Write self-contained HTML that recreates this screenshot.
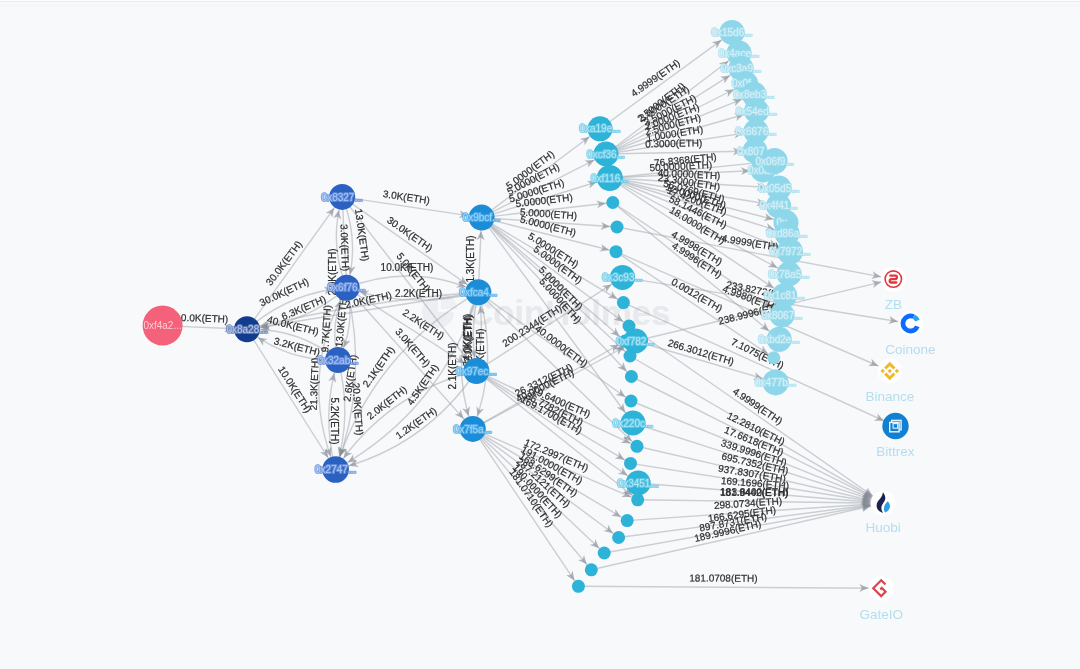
<!DOCTYPE html>
<html><head><meta charset="utf-8"><title>graph</title>
<style>
html,body{margin:0;padding:0;background:#f8f9fb;}
body{width:1080px;height:669px;overflow:hidden;position:relative;font-family:"Liberation Sans",sans-serif;}
svg{position:absolute;left:0;top:0;display:block;filter:blur(0.65px);}
.top0{position:absolute;left:0;top:0;width:100%;height:1px;background:#fdfdfe;}
.top1{position:absolute;left:0;top:1px;width:100%;height:1px;background:#e7e9ed;}
.top2{position:absolute;left:0;top:2px;width:100%;height:2px;background:#f9fafc;}
.top3{position:absolute;left:0;top:4px;width:100%;height:3px;background:#f6f7f9;}
.wm{position:absolute;left:468px;top:293px;font-size:35px;font-weight:bold;color:#e7e9ec;letter-spacing:-0.2px;line-height:40px;white-space:nowrap;}
text{font-family:"Liberation Sans",sans-serif;}
.el text{fill:#2e2e2e;stroke:#2e2e2e;stroke-width:.22px;text-anchor:middle;}
.nl text{font-size:10px;text-anchor:middle;paint-order:stroke;stroke-width:2.2px;stroke-linejoin:round;}
.ex{font-size:13.5px;text-anchor:middle;fill:#b2deee;}
</style></head><body>
<div class="top0"></div><div class="top1"></div><div class="top2"></div><div class="top3"></div>
<div class="wm">CoinHolmes</div>
<svg width="1080" height="669" viewBox="0 0 1080 669">
<g fill="#eceef1"><path d="M438 296a16 16 0 1 0 16 16h-16z"/><path d="M441 293v16h16a16 16 0 0 0-16-16z" opacity=".8"/></g>
<g fill="none" stroke="#9ea3ab" stroke-width="1.4" stroke-opacity=".5">
<path d="M162.6 325.6L247.0 329.3"/>
<path d="M247.0 329.3L342.2 196.9"/>
<path d="M247.0 329.3Q289.9 291.9 346.7 287.8"/>
<path d="M346.7 287.8Q303.8 325.2 247.0 329.3"/>
<path d="M338.0 360.0Q298.3 327.6 247.0 329.3"/>
<path d="M338.0 360.0Q286.7 361.7 247.0 329.3"/>
<path d="M247.0 329.3L335.6 469.5"/>
<path d="M346.7 287.8Q328.5 243.1 342.2 196.9"/>
<path d="M342.2 196.9L346.7 287.8"/>
<path d="M342.2 196.9Q360.4 241.6 346.7 287.8"/>
<path d="M338.0 360.0Q328.5 322.2 346.7 287.8"/>
<path d="M346.7 287.8Q356.2 325.6 338.0 360.0"/>
<path d="M346.7 287.8Q297.2 376.0 335.6 469.5"/>
<path d="M346.7 287.8Q369.1 380.4 335.6 469.5"/>
<path d="M335.6 469.5Q320.8 414.4 338.0 360.0"/>
<path d="M338.0 360.0Q352.8 415.1 335.6 469.5"/>
<path d="M342.2 196.9L481.6 217.6"/>
<path d="M342.2 196.9L478.3 292.3"/>
<path d="M342.2 196.9L476.4 371.0"/>
<path d="M346.7 287.8Q413.5 262.1 478.3 292.3"/>
<path d="M478.3 292.3Q411.8 310.0 346.7 287.8"/>
<path d="M478.3 292.3L247.0 329.3"/>
<path d="M478.3 292.3Q361.1 300.9 247.0 329.3"/>
<path d="M346.7 287.8L476.4 371.0"/>
<path d="M346.7 287.8L472.8 428.9"/>
<path d="M478.3 292.3Q371.9 352.7 335.6 469.5"/>
<path d="M478.3 292.3Q442.8 409.8 335.6 469.5"/>
<path d="M476.4 371.0Q386.5 392.4 335.6 469.5"/>
<path d="M476.4 371.0Q424.9 447.3 335.6 469.5"/>
<path d="M478.3 292.3L481.6 217.6"/>
<path d="M478.3 292.3Q469.4 331.5 476.4 371.0"/>
<path d="M476.4 371.0Q485.3 331.8 478.3 292.3"/>
<path d="M478.3 292.3Q447.6 359.5 472.8 428.9"/>
<path d="M478.3 292.3Q499.5 361.6 472.8 428.9"/>
<path d="M481.6 217.6L600.0 128.8"/>
<path d="M481.6 217.6L606.0 154.0"/>
<path d="M481.6 217.6L609.8 178.0"/>
<path d="M481.6 217.6L612.8 202.5"/>
<path d="M481.6 217.6L617.0 227.0"/>
<path d="M481.6 217.6L616.0 251.7"/>
<path d="M481.6 217.6L623.4 302.6"/>
<path d="M481.6 217.6L629.0 326.0"/>
<path d="M481.6 217.6L625.0 341.0"/>
<path d="M481.6 217.6L630.0 356.0"/>
<path d="M481.6 217.6L631.4 376.5"/>
<path d="M481.6 217.6L633.0 423.0"/>
<path d="M476.4 371.0L622.5 277.4"/>
<path d="M478.3 292.3L631.0 401.0"/>
<path d="M478.3 292.3L637.0 446.3"/>
<path d="M472.8 428.9L625.0 341.0"/>
<path d="M472.8 428.9L635.5 341.0"/>
<path d="M476.4 371.0L637.0 446.3"/>
<path d="M476.4 371.0L630.5 463.4"/>
<path d="M476.4 371.0L638.2 483.0"/>
<path d="M476.4 371.0L637.7 499.8"/>
<path d="M472.8 428.9L637.7 499.8"/>
<path d="M472.8 428.9L627.2 520.6"/>
<path d="M472.8 428.9L618.6 537.5"/>
<path d="M472.8 428.9L604.2 553.0"/>
<path d="M472.8 428.9L591.3 569.8"/>
<path d="M472.8 428.9L578.4 586.3"/>
<path d="M600.0 128.8L732.0 32.4"/>
<path d="M606.0 154.0L739.0 53.0"/>
<path d="M606.0 154.0L741.0 68.3"/>
<path d="M606.0 154.0L745.6 83.5"/>
<path d="M606.0 154.0L754.0 94.3"/>
<path d="M606.0 154.0L756.5 111.0"/>
<path d="M606.0 154.0L756.0 131.4"/>
<path d="M606.0 154.0L755.0 151.0"/>
<path d="M609.8 178.0L774.6 161.0"/>
<path d="M609.8 178.0L763.0 170.0"/>
<path d="M609.8 178.0L779.0 188.0"/>
<path d="M609.8 178.0L778.6 205.8"/>
<path d="M609.8 178.0L786.0 222.5"/>
<path d="M609.8 178.0L787.0 233.6"/>
<path d="M609.8 178.0L790.0 251.5"/>
<path d="M609.8 178.0L789.0 274.0"/>
<path d="M609.8 178.0L784.6 295.4"/>
<path d="M612.8 202.5L782.0 315.0"/>
<path d="M612.8 202.5L779.2 339.3"/>
<path d="M617.0 227.0L893.3 279.1"/>
<path d="M616.0 251.7L773.8 357.8"/>
<path d="M622.5 277.4L910.4 323.5"/>
<path d="M616.0 251.7L889.8 371.0"/>
<path d="M635.5 341.0L893.3 279.1"/>
<path d="M623.4 302.6L895.5 426.0"/>
<path d="M635.5 341.0L775.6 382.4"/>
<path d="M629.0 326.0L883.2 503.2"/>
<path d="M631.4 376.5L883.2 503.2"/>
<path d="M631.0 401.0L883.2 503.2"/>
<path d="M633.0 423.0L883.2 503.2"/>
<path d="M637.0 446.3L883.2 503.2"/>
<path d="M630.5 463.4L883.2 503.2"/>
<path d="M638.2 483.0L883.2 503.2"/>
<path d="M637.7 499.8L883.2 503.2"/>
<path d="M630.0 356.0L883.2 503.2"/>
<path d="M627.2 520.6L883.2 503.2"/>
<path d="M618.6 537.5L883.2 503.2"/>
<path d="M604.2 553.0L883.2 503.2"/>
<path d="M591.3 569.8L883.2 503.2"/>
<path d="M578.4 586.3L881.2 588.2"/>
</g>
<g fill="#858b94" fill-opacity=".62">
<path d="M233.5 328.7L224.3 332.3L227.0 328.4L224.7 324.3Z"/>
<path d="M334.2 208.0L332.2 217.6L330.4 213.3L325.7 213.0Z"/>
<path d="M333.3 289.3L325.0 294.5L326.8 290.2L323.8 286.6Z"/>
<path d="M260.4 327.8L268.7 322.6L266.9 326.9L269.9 330.5Z"/>
<path d="M260.5 329.5L269.7 326.0L267.0 329.8L269.3 334.0Z"/>
<path d="M257.8 337.4L267.5 339.1L263.2 341.0L263.1 345.7Z"/>
<path d="M328.2 457.8L320.0 452.3L324.7 452.3L326.8 448.0Z"/>
<path d="M338.9 210.0L341.1 219.7L337.7 216.4L333.3 218.1Z"/>
<path d="M350.0 274.7L347.8 265.0L351.2 268.3L355.6 266.6Z"/>
<path d="M341.1 300.1L341.6 310.0L338.8 306.2L334.2 307.1Z"/>
<path d="M343.6 347.7L343.1 337.8L345.9 341.6L350.5 340.7Z"/>
<path d="M330.7 456.4L323.9 449.2L328.5 450.3L331.5 446.6Z"/>
<path d="M340.2 456.3L339.2 446.5L342.3 450.2L346.8 449.0Z"/>
<path d="M334.3 373.1L336.1 382.8L332.8 379.4L328.3 380.9Z"/>
<path d="M339.3 456.2L337.6 446.5L340.9 449.8L345.4 448.4Z"/>
<path d="M468.2 215.6L458.7 218.2L461.8 214.7L459.9 210.3Z"/>
<path d="M467.2 284.5L457.6 282.7L461.9 280.8L462.2 276.1Z"/>
<path d="M468.0 360.1L459.3 355.4L464.0 355.0L465.7 350.5Z"/>
<path d="M465.8 287.0L456.0 287.5L459.7 284.7L458.8 280.0Z"/>
<path d="M359.7 291.8L369.5 290.4L366.0 293.6L367.3 298.1Z"/>
<path d="M260.6 327.1L268.8 321.8L267.0 326.1L270.1 329.7Z"/>
<path d="M260.1 326.1L268.0 320.1L266.5 324.6L269.8 327.9Z"/>
<path d="M464.9 363.6L455.2 362.1L459.4 360.1L459.5 355.4Z"/>
<path d="M463.7 418.7L454.7 414.6L459.3 413.8L460.6 409.3Z"/>
<path d="M340.0 456.3L339.2 446.4L342.2 450.1L346.8 449.1Z"/>
<path d="M347.7 462.4L353.3 454.3L353.2 459.0L357.5 461.2Z"/>
<path d="M343.6 458.1L345.7 448.5L347.5 452.8L352.2 453.2Z"/>
<path d="M349.0 465.8L356.4 459.3L355.2 463.9L358.8 467.0Z"/>
<path d="M481.0 231.1L484.6 240.3L480.7 237.6L476.6 240.0Z"/>
<path d="M474.5 357.6L469.5 349.1L473.8 351.1L477.5 348.2Z"/>
<path d="M480.2 305.7L485.2 314.2L480.9 312.2L477.2 315.1Z"/>
<path d="M468.6 415.9L462.2 408.4L466.8 409.7L469.9 406.1Z"/>
<path d="M477.4 416.1L476.5 406.3L479.5 409.9L484.1 408.8Z"/>
<path d="M589.5 136.7L584.7 145.3L584.3 140.6L579.9 138.9Z"/>
<path d="M594.3 160.0L588.1 167.6L588.6 162.9L584.5 160.5Z"/>
<path d="M596.8 182.0L589.4 188.5L590.6 183.9L587.0 180.8Z"/>
<path d="M605.7 203.3L597.3 208.3L599.3 204.1L596.3 200.4Z"/>
<path d="M609.9 226.5L600.6 229.9L603.4 226.1L601.2 221.9Z"/>
<path d="M609.1 250.0L599.4 251.6L602.8 248.4L601.4 243.9Z"/>
<path d="M617.4 299.0L607.6 297.8L611.8 295.6L611.7 290.9Z"/>
<path d="M623.3 321.8L613.7 319.7L618.1 317.9L618.4 313.2Z"/>
<path d="M619.6 336.4L610.2 333.5L614.7 332.1L615.4 327.5Z"/>
<path d="M624.8 351.2L615.5 347.9L620.1 346.7L621.0 342.1Z"/>
<path d="M626.5 371.3L617.4 367.5L622.1 366.6L623.3 362.0Z"/>
<path d="M625.2 412.5L616.7 407.6L621.4 407.2L623.1 402.9Z"/>
<path d="M611.5 284.4L606.1 292.6L606.1 287.9L601.8 285.9Z"/>
<path d="M625.3 396.9L615.6 395.0L620.0 393.2L620.3 388.4Z"/>
<path d="M631.8 441.3L622.6 437.9L627.2 436.8L628.2 432.2Z"/>
<path d="M618.9 344.5L613.1 352.5L613.3 347.8L609.1 345.6Z"/>
<path d="M623.9 347.3L617.9 355.1L618.2 350.4L614.1 348.0Z"/>
<path d="M630.6 443.3L620.7 443.1L624.7 440.5L624.1 435.8Z"/>
<path d="M624.3 459.7L614.6 458.5L618.8 456.4L618.7 451.6Z"/>
<path d="M627.5 475.6L617.8 473.7L622.1 471.9L622.4 467.2Z"/>
<path d="M632.1 495.3L622.5 492.8L627.0 491.2L627.5 486.6Z"/>
<path d="M631.1 497.0L621.3 497.1L625.1 494.4L624.4 489.7Z"/>
<path d="M621.0 516.9L611.2 515.8L615.4 513.6L615.3 508.9Z"/>
<path d="M613.0 533.3L603.3 531.1L607.7 529.4L608.1 524.7Z"/>
<path d="M599.1 548.2L589.8 544.9L594.4 543.7L595.3 539.1Z"/>
<path d="M586.7 564.3L577.9 560.0L582.5 559.4L584.0 554.9Z"/>
<path d="M574.4 580.4L566.1 575.2L570.8 575.0L572.7 570.7Z"/>
<path d="M721.4 40.1L716.5 48.7L716.2 43.9L711.8 42.2Z"/>
<path d="M728.5 61.0L723.8 69.6L723.3 64.9L718.9 63.2Z"/>
<path d="M729.9 75.4L724.4 83.6L724.4 78.9L720.1 76.8Z"/>
<path d="M733.9 89.4L727.7 97.0L728.1 92.3L724.1 89.9Z"/>
<path d="M741.8 99.2L734.9 106.3L735.8 101.7L731.9 98.9Z"/>
<path d="M743.9 114.6L736.3 120.9L737.6 116.4L734.1 113.2Z"/>
<path d="M743.1 133.3L734.8 138.6L736.6 134.3L733.6 130.7Z"/>
<path d="M742.0 151.3L733.0 155.4L735.5 151.4L732.9 147.4Z"/>
<path d="M761.0 162.4L752.5 167.3L754.5 163.1L751.6 159.3Z"/>
<path d="M750.0 170.7L741.2 175.1L743.5 171.0L740.8 167.2Z"/>
<path d="M765.9 187.2L756.7 190.7L759.4 186.8L757.1 182.7Z"/>
<path d="M765.7 203.7L756.2 206.2L759.3 202.6L757.5 198.3Z"/>
<path d="M773.2 219.3L763.5 220.9L766.9 217.7L765.5 213.2Z"/>
<path d="M774.6 229.7L764.8 230.8L768.4 227.8L767.2 223.2Z"/>
<path d="M777.4 246.4L767.5 246.7L771.4 243.9L770.6 239.3Z"/>
<path d="M777.4 267.8L767.5 267.0L771.6 264.7L771.3 260.0Z"/>
<path d="M773.7 288.1L764.0 286.4L768.3 284.4L768.4 279.7Z"/>
<path d="M771.0 307.7L761.3 306.0L765.6 304.1L765.7 299.4Z"/>
<path d="M769.0 330.9L759.5 328.3L764.0 326.8L764.6 322.1Z"/>
<path d="M880.9 276.8L871.3 279.0L874.5 275.6L872.8 271.2Z"/>
<path d="M767.9 353.8L758.2 352.1L762.5 350.2L762.6 345.5Z"/>
<path d="M897.8 321.5L888.3 324.0L891.4 320.5L889.6 316.1Z"/>
<path d="M878.2 365.9L868.3 366.0L872.2 363.3L871.5 358.7Z"/>
<path d="M881.1 282.0L873.2 288.0L874.7 283.6L871.4 280.3Z"/>
<path d="M883.9 420.8L874.1 420.7L878.0 418.1L877.4 413.4Z"/>
<path d="M762.6 378.6L752.9 379.9L756.4 376.7L755.1 372.2Z"/>
<path d="M872.7 495.9L863.0 494.0L867.4 492.2L867.6 487.5Z"/>
<path d="M871.9 497.5L862.0 497.0L866.1 494.6L865.6 489.9Z"/>
<path d="M871.5 498.5L861.7 498.8L865.5 496.0L864.7 491.4Z"/>
<path d="M871.0 499.3L861.2 500.4L864.8 497.3L863.7 492.7Z"/>
<path d="M870.9 500.4L861.2 502.2L864.6 498.9L863.0 494.4Z"/>
<path d="M870.6 501.2L861.1 503.8L864.1 500.2L862.3 495.9Z"/>
<path d="M870.6 502.2L861.3 505.4L864.2 501.6L862.0 497.4Z"/>
<path d="M870.6 503.0L861.6 506.9L864.1 502.9L861.7 498.9Z"/>
<path d="M872.1 496.8L862.3 495.7L866.5 493.5L866.4 488.8Z"/>
<path d="M870.7 504.0L862.0 508.6L864.2 504.5L861.5 500.7Z"/>
<path d="M870.6 504.8L862.2 510.0L864.2 505.7L861.2 502.0Z"/>
<path d="M870.6 505.4L862.5 511.0L864.2 506.6L861.1 503.1Z"/>
<path d="M870.8 506.0L862.9 511.9L864.5 507.5L861.1 504.1Z"/>
<path d="M868.3 588.1L859.3 592.1L861.8 588.1L859.4 584.1Z"/>
</g>
<g class="el">
<text transform="translate(201.8,318.0) rotate(2.0)" y="3.6" font-size="10">10.0K(ETH)</text>
<text transform="translate(283.8,263.0) rotate(-53.0)" y="3.6" font-size="10">30.0K(ETH)</text>
<text transform="translate(284.0,292.0) rotate(-25.0)" y="3.6" font-size="10">30.0K(ETH)</text>
<text transform="translate(303.6,307.6) rotate(-23.0)" y="3.6" font-size="10">6.3K(ETH)</text>
<text transform="translate(293.0,325.5) rotate(14.0)" y="3.6" font-size="10">40.0K(ETH)</text>
<text transform="translate(297.0,346.5) rotate(15.0)" y="3.6" font-size="10">3.2K(ETH)</text>
<text transform="translate(295.0,389.3) rotate(57.5)" y="3.6" font-size="10">10.0K(ETH)</text>
<text transform="translate(332.3,272.0) rotate(-90.0)" y="3.6" font-size="10">2.0K(ETH)</text>
<text transform="translate(344.9,247.7) rotate(88.0)" y="3.6" font-size="10">3.0K(ETH)</text>
<text transform="translate(362.2,235.0) rotate(82.0)" y="3.6" font-size="10">13.0K(ETH)</text>
<text transform="translate(326.0,328.7) rotate(-87.0)" y="3.6" font-size="10">9.7K(ETH)</text>
<text transform="translate(341.0,321.0) rotate(-85.0)" y="3.6" font-size="10">13.0K(ETH)</text>
<text transform="translate(314.0,384.0) rotate(-88.0)" y="3.6" font-size="10">21.3K(ETH)</text>
<text transform="translate(358.0,409.0) rotate(86.0)" y="3.6" font-size="10">20.9K(ETH)</text>
<text transform="translate(335.0,421.0) rotate(90.0)" y="3.6" font-size="10">5.2K(ETH)</text>
<text transform="translate(350.0,378.0) rotate(-82.0)" y="3.6" font-size="10">2.6K(ETH)</text>
<text transform="translate(406.4,197.0) rotate(8.4)" y="3.6" font-size="10">3.0K(ETH)</text>
<text transform="translate(410.0,234.0) rotate(35.0)" y="3.6" font-size="10">30.0K(ETH)</text>
<text transform="translate(413.6,272.3) rotate(51.0)" y="3.6" font-size="10">5.0K(ETH)</text>
<text transform="translate(407.0,267.6) rotate(0.0)" y="3.6" font-size="10">10.0K(ETH)</text>
<text transform="translate(418.5,293.8) rotate(0.0)" y="3.6" font-size="10">2.2K(ETH)</text>
<text transform="translate(368.4,299.8) rotate(-12.0)" y="3.6" font-size="10">2.0K(ETH)</text>
<text transform="translate(423.5,324.0) rotate(33.0)" y="3.6" font-size="10">2.2K(ETH)</text>
<text transform="translate(413.0,347.5) rotate(49.0)" y="3.6" font-size="10">3.0K(ETH)</text>
<text transform="translate(378.3,366.7) rotate(-55.0)" y="3.6" font-size="10">2.1K(ETH)</text>
<text transform="translate(422.5,384.6) rotate(-55.0)" y="3.6" font-size="10">4.5K(ETH)</text>
<text transform="translate(386.7,402.5) rotate(-38.0)" y="3.6" font-size="10">2.0K(ETH)</text>
<text transform="translate(416.0,422.9) rotate(-35.0)" y="3.6" font-size="10">1.2K(ETH)</text>
<text transform="translate(470.0,259.0) rotate(-90.0)" y="3.6" font-size="10">1.3K(ETH)</text>
<text transform="translate(468.7,338.5) rotate(-90.0)" y="3.6" font-size="10">2.0K(ETH)</text>
<text transform="translate(467.8,340.0) rotate(-90.0)" y="3.6" font-size="10">34.0K(ETH)</text>
<text transform="translate(452.5,366.0) rotate(-90.0)" y="3.6" font-size="10">2.1K(ETH)</text>
<text transform="translate(480.7,352.0) rotate(-90.0)" y="3.6" font-size="10">1.0K(ETH)</text>
<text transform="translate(530.0,169.8) rotate(-36.9)" y="3.6" font-size="10">5.0000(ETH)</text>
<text transform="translate(533.2,178.9) rotate(-27.1)" y="3.6" font-size="10">5.0000(ETH)</text>
<text transform="translate(536.5,190.6) rotate(-17.2)" y="3.6" font-size="10">5.0000(ETH)</text>
<text transform="translate(544.1,200.3) rotate(-6.6)" y="3.6" font-size="10">5.0000(ETH)</text>
<text transform="translate(548.5,213.7) rotate(4.0)" y="3.6" font-size="10">5.0000(ETH)</text>
<text transform="translate(548.2,225.7) rotate(14.2)" y="3.6" font-size="10">5.0000(ETH)</text>
<text transform="translate(553.5,250.0) rotate(32.0)" y="3.6" font-size="10">5.0000(ETH)</text>
<text transform="translate(558.0,264.5) rotate(36.0)" y="3.6" font-size="10">5.0000(ETH)</text>
<text transform="translate(561.0,288.0) rotate(45.0)" y="3.6" font-size="10">5.0000(ETH)</text>
<text transform="translate(560.5,300.5) rotate(48.0)" y="3.6" font-size="10">5.0000(ETH)</text>
<text transform="translate(532.0,325.5) rotate(-33.0)" y="3.6" font-size="10">200.2344(ETH)</text>
<text transform="translate(561.5,346.0) rotate(37.0)" y="3.6" font-size="10">40.0000(ETH)</text>
<text transform="translate(543.6,380.0) rotate(-26.0)" y="3.6" font-size="10">26.3312(ETH)</text>
<text transform="translate(545.0,385.5) rotate(-26.0)" y="3.6" font-size="10">40.0000(ETH)</text>
<text transform="translate(561.3,402.0) rotate(23.5)" y="3.6" font-size="10">19.6400(ETH)</text>
<text transform="translate(554.6,408.8) rotate(26.5)" y="3.6" font-size="10">86.7782(ETH)</text>
<text transform="translate(551.6,414.7) rotate(29.0)" y="3.6" font-size="10">169.1700(ETH)</text>
<text transform="translate(556.5,455.0) rotate(23.0)" y="3.6" font-size="10">172.2997(ETH)</text>
<text transform="translate(552.0,465.0) rotate(29.0)" y="3.6" font-size="10">191.0000(ETH)</text>
<text transform="translate(548.5,474.5) rotate(35.0)" y="3.6" font-size="10">168.6299(ETH)</text>
<text transform="translate(543.5,482.5) rotate(42.0)" y="3.6" font-size="10">287.2121(ETH)</text>
<text transform="translate(537.5,491.0) rotate(48.0)" y="3.6" font-size="10">190.0000(ETH)</text>
<text transform="translate(531.5,498.0) rotate(55.0)" y="3.6" font-size="10">181.0710(ETH)</text>
<text transform="translate(655.3,77.8) rotate(-35.0)" y="3.6" font-size="10">4.9999(ETH)</text>
<text transform="translate(661.0,102.0) rotate(-38.0)" y="3.6" font-size="10">2.5000(ETH)</text>
<text transform="translate(664.0,103.5) rotate(-33.0)" y="3.6" font-size="10">3.0000(ETH)</text>
<text transform="translate(670.0,110.0) rotate(-27.0)" y="3.6" font-size="10">3.5000(ETH)</text>
<text transform="translate(672.0,116.5) rotate(-21.0)" y="3.6" font-size="10">2.0000(ETH)</text>
<text transform="translate(672.8,124.4) rotate(-15.0)" y="3.6" font-size="10">2.5000(ETH)</text>
<text transform="translate(674.6,133.4) rotate(-9.0)" y="3.6" font-size="10">1.0000(ETH)</text>
<text transform="translate(673.7,143.3) rotate(-1.0)" y="3.6" font-size="10">0.3000(ETH)</text>
<text transform="translate(685.3,159.7) rotate(-6.0)" y="3.6" font-size="10">76.8368(ETH)</text>
<text transform="translate(680.8,166.0) rotate(-3.0)" y="3.6" font-size="10">50.0000(ETH)</text>
<text transform="translate(689.0,174.0) rotate(3.0)" y="3.6" font-size="10">40.0000(ETH)</text>
<text transform="translate(689.0,182.0) rotate(9.0)" y="3.6" font-size="10">23.3000(ETH)</text>
<text transform="translate(694.0,191.0) rotate(15.0)" y="3.6" font-size="10">56.0769(ETH)</text>
<text transform="translate(696.0,196.0) rotate(18.0)" y="3.6" font-size="10">12.0000(ETH)</text>
<text transform="translate(697.0,201.0) rotate(21.0)" y="3.6" font-size="10">17.4200(ETH)</text>
<text transform="translate(698.0,211.7) rotate(26.0)" y="3.6" font-size="10">58.1446(ETH)</text>
<text transform="translate(697.5,225.0) rotate(31.0)" y="3.6" font-size="10">18.0000(ETH)</text>
<text transform="translate(697.0,247.8) rotate(31.0)" y="3.6" font-size="10">4.9998(ETH)</text>
<text transform="translate(697.0,260.0) rotate(33.0)" y="3.6" font-size="10">4.9996(ETH)</text>
<text transform="translate(750.0,242.5) rotate(9.0)" y="3.6" font-size="10">4.9999(ETH)</text>
<text transform="translate(697.0,295.0) rotate(30.0)" y="3.6" font-size="10">0.0012(ETH)</text>
<text transform="translate(760.0,290.8) rotate(11.0)" y="3.6" font-size="10">233.8272(ETH)</text>
<text transform="translate(750.0,298.0) rotate(20.0)" y="3.6" font-size="10">4.9980(ETH)</text>
<text transform="translate(751.6,313.0) rotate(-14.0)" y="3.6" font-size="10">238.9996(ETH)</text>
<text transform="translate(757.5,353.5) rotate(26.0)" y="3.6" font-size="10">7.1075(ETH)</text>
<text transform="translate(701.0,352.0) rotate(16.5)" y="3.6" font-size="10">266.3012(ETH)</text>
<text transform="translate(757.7,406.0) rotate(34.0)" y="3.6" font-size="10">4.9999(ETH)</text>
<text transform="translate(756.0,428.5) rotate(26.0)" y="3.6" font-size="10">12.2810(ETH)</text>
<text transform="translate(754.0,441.0) rotate(22.0)" y="3.6" font-size="10">17.6618(ETH)</text>
<text transform="translate(754.0,452.7) rotate(17.5)" y="3.6" font-size="10">339.9996(ETH)</text>
<text transform="translate(755.0,463.5) rotate(13.0)" y="3.6" font-size="10">695.7352(ETH)</text>
<text transform="translate(752.0,473.4) rotate(9.0)" y="3.6" font-size="10">937.8307(ETH)</text>
<text transform="translate(755.0,483.0) rotate(4.5)" y="3.6" font-size="10">169.1696(ETH)</text>
<text transform="translate(754.0,492.3) rotate(1.0)" y="3.6" font-size="10">181.9442(ETH)</text>
<text transform="translate(748.0,503.0) rotate(-4.0)" y="3.6" font-size="10">298.0734(ETH)</text>
<text transform="translate(742.0,514.0) rotate(-7.5)" y="3.6" font-size="10">166.6295(ETH)</text>
<text transform="translate(733.0,522.0) rotate(-10.0)" y="3.6" font-size="10">897.8731(ETH)</text>
<text transform="translate(727.7,530.8) rotate(-13.0)" y="3.6" font-size="10">189.9996(ETH)</text>
<text transform="translate(723.4,578.0) rotate(0.3)" y="3.6" font-size="10">181.0708(ETH)</text>
<text transform="translate(754.5,492.0) rotate(0.0)" y="3.6" font-size="10">183.8400(ETH)</text>
</g>
<g class="nl">
<circle cx="162.6" cy="325.6" r="20" fill="#f4617a"/>
<text x="162.6" y="329.20000000000005" fill="#ffccd5">0xf4a2...</text>
<circle cx="247" cy="329.3" r="13" fill="#123c8c"/>
<text x="247" y="332.90000000000003" fill="#b4c6ea" stroke="#6d86bd" stroke-opacity=".8">0x8a28...</text>
<circle cx="342.2" cy="196.9" r="13" fill="#2b62c2"/>
<text x="342.2" y="200.5" fill="#a9c8ff" stroke="#6f92d8" stroke-opacity=".8">0x8327...</text>
<circle cx="346.7" cy="287.8" r="13" fill="#2b62c2"/>
<text x="346.7" y="291.40000000000003" fill="#a9c8ff" stroke="#6f92d8" stroke-opacity=".8">0x6f76...</text>
<circle cx="338" cy="360" r="13" fill="#2b62c2"/>
<text x="338" y="363.6" fill="#a9c8ff" stroke="#6f92d8" stroke-opacity=".8">0x32ab...</text>
<circle cx="335.6" cy="469.5" r="13.3" fill="#2b62c2"/>
<text x="335.6" y="473.1" fill="#a9c8ff" stroke="#6f92d8" stroke-opacity=".8">0x2747...</text>
<circle cx="481.6" cy="217.6" r="13" fill="#1a8cd8"/>
<text x="481.6" y="221.2" fill="#9bd9fc" stroke="#58aee6" stroke-opacity=".8">0x9bcf...</text>
<circle cx="478.3" cy="292.3" r="13" fill="#1a8cd8"/>
<text x="478.3" y="295.90000000000003" fill="#9bd9fc" stroke="#58aee6" stroke-opacity=".8">0xfca4...</text>
<circle cx="476.4" cy="371" r="13" fill="#1a8cd8"/>
<text x="476.4" y="374.6" fill="#9bd9fc" stroke="#58aee6" stroke-opacity=".8">0x97ec...</text>
<circle cx="472.8" cy="428.9" r="13" fill="#1a8cd8"/>
<text x="472.8" y="432.5" fill="#9bd9fc" stroke="#58aee6" stroke-opacity=".8">0x7f5a...</text>
<circle cx="600" cy="128.8" r="12.5" fill="#2db2d8"/>
<text x="600" y="132.4" fill="#b0e8f8" stroke="#6cc9e6" stroke-opacity=".8">0xa19e...</text>
<circle cx="606" cy="154" r="12.5" fill="#2db2d8"/>
<text x="606" y="157.6" fill="#b0e8f8" stroke="#6cc9e6" stroke-opacity=".8">0xcf36...</text>
<circle cx="609.8" cy="178" r="13" fill="#2db2d8"/>
<text x="609.8" y="181.6" fill="#b0e8f8" stroke="#6cc9e6" stroke-opacity=".8">0xf116...</text>
<circle cx="612.8" cy="202.5" r="6.5" fill="#2db2d8"/>
<circle cx="617" cy="227" r="6.5" fill="#2db2d8"/>
<circle cx="616" cy="251.7" r="6.5" fill="#2db2d8"/>
<circle cx="622.5" cy="277.4" r="12.5" fill="#2db2d8"/>
<text x="622.5" y="281.0" fill="#b0e8f8" stroke="#6cc9e6" stroke-opacity=".8">0x3c93...</text>
<circle cx="623.4" cy="302.6" r="6.5" fill="#2db2d8"/>
<circle cx="629" cy="326" r="6.5" fill="#2db2d8"/>
<circle cx="625" cy="341" r="6.5" fill="#2db2d8"/>
<circle cx="630" cy="356" r="6.5" fill="#2db2d8"/>
<circle cx="635.5" cy="341" r="12.5" fill="#2db2d8"/>
<text x="635.5" y="344.6" fill="#b0e8f8" stroke="#6cc9e6" stroke-opacity=".8">0xf782...</text>
<circle cx="631.4" cy="376.5" r="6.5" fill="#2db2d8"/>
<circle cx="631" cy="401" r="6.5" fill="#2db2d8"/>
<circle cx="633" cy="423" r="12.5" fill="#2db2d8"/>
<text x="633" y="426.6" fill="#b0e8f8" stroke="#6cc9e6" stroke-opacity=".8">0x220c...</text>
<circle cx="637" cy="446.3" r="6.5" fill="#2db2d8"/>
<circle cx="630.5" cy="463.4" r="6.5" fill="#2db2d8"/>
<circle cx="637.7" cy="499.8" r="6.5" fill="#2db2d8"/>
<circle cx="638.2" cy="483" r="12.5" fill="#2db2d8"/>
<text x="638.2" y="486.6" fill="#b0e8f8" stroke="#6cc9e6" stroke-opacity=".8">0x3451...</text>
<circle cx="627.2" cy="520.6" r="6.5" fill="#2db2d8"/>
<circle cx="618.6" cy="537.5" r="6.5" fill="#2db2d8"/>
<circle cx="604.2" cy="553" r="6.5" fill="#2db2d8"/>
<circle cx="591.3" cy="569.8" r="6.5" fill="#2db2d8"/>
<circle cx="578.4" cy="586.3" r="6.5" fill="#2db2d8"/>
<circle cx="732" cy="32.4" r="12.5" fill="#8ed6ea"/>
<text x="732" y="36.0" fill="#d6f1f9" stroke="#a8dfee" stroke-opacity=".8">0x15d6...</text>
<circle cx="739" cy="53" r="12.5" fill="#8ed6ea"/>
<text x="739" y="56.6" fill="#d6f1f9" stroke="#a8dfee" stroke-opacity=".8">0x4ace...</text>
<circle cx="741" cy="68.3" r="12.5" fill="#8ed6ea"/>
<text x="741" y="71.89999999999999" fill="#d6f1f9" stroke="#a8dfee" stroke-opacity=".8">0xc3a9...</text>
<circle cx="745.6" cy="83.5" r="12.5" fill="#8ed6ea"/>
<text x="745.6" y="87.1" fill="#d6f1f9" stroke="#a8dfee" stroke-opacity=".8">0x0f...</text>
<circle cx="754" cy="94.3" r="12.5" fill="#8ed6ea"/>
<text x="754" y="97.89999999999999" fill="#d6f1f9" stroke="#a8dfee" stroke-opacity=".8">0x8eb3...</text>
<circle cx="756.5" cy="111" r="12.5" fill="#8ed6ea"/>
<text x="756.5" y="114.6" fill="#d6f1f9" stroke="#a8dfee" stroke-opacity=".8">0x54ed...</text>
<circle cx="756" cy="131.4" r="12.5" fill="#8ed6ea"/>
<text x="756" y="135.0" fill="#d6f1f9" stroke="#a8dfee" stroke-opacity=".8">0x6676...</text>
<circle cx="755" cy="151" r="12.5" fill="#8ed6ea"/>
<text x="755" y="154.6" fill="#d6f1f9" stroke="#a8dfee" stroke-opacity=".8">0x807...</text>
<circle cx="763" cy="170" r="12.5" fill="#8ed6ea"/>
<text x="763" y="173.6" fill="#d6f1f9" stroke="#a8dfee" stroke-opacity=".8">0x0a...</text>
<circle cx="774.6" cy="161" r="13" fill="#8ed6ea"/>
<text x="774.6" y="164.6" fill="#d6f1f9" stroke="#a8dfee" stroke-opacity=".8">0x06f9...</text>
<circle cx="779" cy="188" r="12.5" fill="#8ed6ea"/>
<text x="779" y="191.6" fill="#d6f1f9" stroke="#a8dfee" stroke-opacity=".8">0x05d5...</text>
<circle cx="778.6" cy="205.8" r="12.5" fill="#8ed6ea"/>
<text x="778.6" y="209.4" fill="#d6f1f9" stroke="#a8dfee" stroke-opacity=".8">0x4f41...</text>
<circle cx="786" cy="222.5" r="12.5" fill="#8ed6ea"/>
<text x="786" y="226.1" fill="#d6f1f9" stroke="#a8dfee" stroke-opacity=".8">0x...</text>
<circle cx="787" cy="233.6" r="12.5" fill="#8ed6ea"/>
<text x="787" y="237.2" fill="#d6f1f9" stroke="#a8dfee" stroke-opacity=".8">0xd86a...</text>
<circle cx="790" cy="251.5" r="13" fill="#8ed6ea"/>
<text x="790" y="255.1" fill="#d6f1f9" stroke="#a8dfee" stroke-opacity=".8">0x7972...</text>
<circle cx="789" cy="274" r="12.5" fill="#8ed6ea"/>
<text x="789" y="277.6" fill="#d6f1f9" stroke="#a8dfee" stroke-opacity=".8">0x78a5...</text>
<circle cx="784.6" cy="295.4" r="12.5" fill="#8ed6ea"/>
<text x="784.6" y="299.0" fill="#d6f1f9" stroke="#a8dfee" stroke-opacity=".8">0x1c81...</text>
<circle cx="782" cy="315" r="12.5" fill="#8ed6ea"/>
<text x="782" y="318.6" fill="#d6f1f9" stroke="#a8dfee" stroke-opacity=".8">0x8067...</text>
<circle cx="779.2" cy="339.3" r="12.5" fill="#8ed6ea"/>
<text x="779.2" y="342.90000000000003" fill="#d6f1f9" stroke="#a8dfee" stroke-opacity=".8">0xbd2e...</text>
<circle cx="773.8" cy="357.8" r="6.5" fill="#8ed6ea"/>
<circle cx="775.6" cy="382.4" r="13" fill="#8ed6ea"/>
<text x="775.6" y="386.0" fill="#d6f1f9" stroke="#a8dfee" stroke-opacity=".8">0x477b...</text>
</g>
<g>
<circle cx="893.3" cy="279.1" r="12.5" fill="#ffffff"/>
<text x="893.3" y="309.0" class="ex">ZB</text>
<circle cx="910.4" cy="323.5" r="12.5" fill="#ffffff"/>
<text x="910.4" y="353.6" class="ex">Coinone</text>
<circle cx="889.8" cy="371" r="12.5" fill="#ffffff"/>
<text x="889.8" y="401.0" class="ex">Binance</text>
<text x="895.5" y="455.8" class="ex">Bittrex</text>
<circle cx="883.2" cy="503.2" r="12.5" fill="#ffffff"/>
<text x="883.2" y="532.0" class="ex">Huobi</text>
<circle cx="881.2" cy="588.2" r="12.5" fill="#ffffff"/>
<text x="881.2" y="618.6999999999999" class="ex">GateIO</text>
<g transform="translate(893.3,279.1)" fill="none" stroke="#e0383f" stroke-linecap="round" stroke-linejoin="round"><circle r="8.2" stroke-width="1.6"/><path d="M-3 -3.4H2.2Q3.6 -3.4 3.6 -1.9Q3.6 -0.2 2 0H-2Q-3.6 0.2 -3.6 1.9Q-3.6 3.4 -2.2 3.4H3" stroke-width="2.3"/></g>
<g transform="translate(910.4,323.5)" fill="none" stroke-width="4.8"><path d="M6.95 2.8A7.5 7.5 0 1 1 3.2 -6.8" stroke="#0e6bff"/><path d="M3.2 -6.8A7.5 7.5 0 0 1 6.95 -2.8" stroke="#2aa4e8"/></g>
<g transform="translate(889.8,371)" fill="#efb92d"><path d="M0 -9.3L5.7 -3.6L3.5 -1.4L0 -4.9L-3.5 -1.4L-5.7 -3.6Z"/><path d="M0 9.3L5.7 3.6L3.5 1.4L0 4.9L-3.5 1.4L-5.7 3.6Z"/><path d="M0 -2.2L2.2 0L0 2.2L-2.2 0Z"/><path d="M-7.1 -2.2L-4.9 0L-7.1 2.2L-9.3 0Z"/><path d="M7.1 -2.2L9.3 0L7.1 2.2L4.9 0Z"/></g>
<circle cx="895.5" cy="426" r="13.2" fill="#1180d0"/>
<g transform="translate(895.5,426)" fill="none" stroke="#e8f4fc" stroke-width="1.4"><rect x="-3.8" y="-5.6" width="9.4" height="9.4"/><rect x="-5.8" y="-3.6" width="9.4" height="9.4" fill="#1180d0"/><rect x="-2.4" y="-2.4" width="4.6" height="4.6" stroke-width="1.1"/></g>
<g transform="translate(883.2,503.2)"><path d="M-0.3 -11C3.2 -6.5 2.6 -3.2 -0.2 0.2C-2.6 3.4 -2.2 7 0 9.6C-5.5 8.5 -8.4 3.4 -5.4 -1.6C-3.4 -4.8 -0.6 -6.6 -0.3 -11Z" fill="#1d2250"/><path d="M4.6 -2C7.8 1.6 7.8 6.6 2.2 9.4C-0.6 6.6 0.6 1.4 4.6 -2Z" fill="#2f9de2"/></g>
<g transform="translate(881.2,588.2) rotate(45)" fill="none" stroke="#d8474f" stroke-width="2.2"><path d="M0.4 -5.6H-5.6V5.6H5.6V-0.6H0.2V1.6"/></g>
</g>
</svg>
</body></html>
